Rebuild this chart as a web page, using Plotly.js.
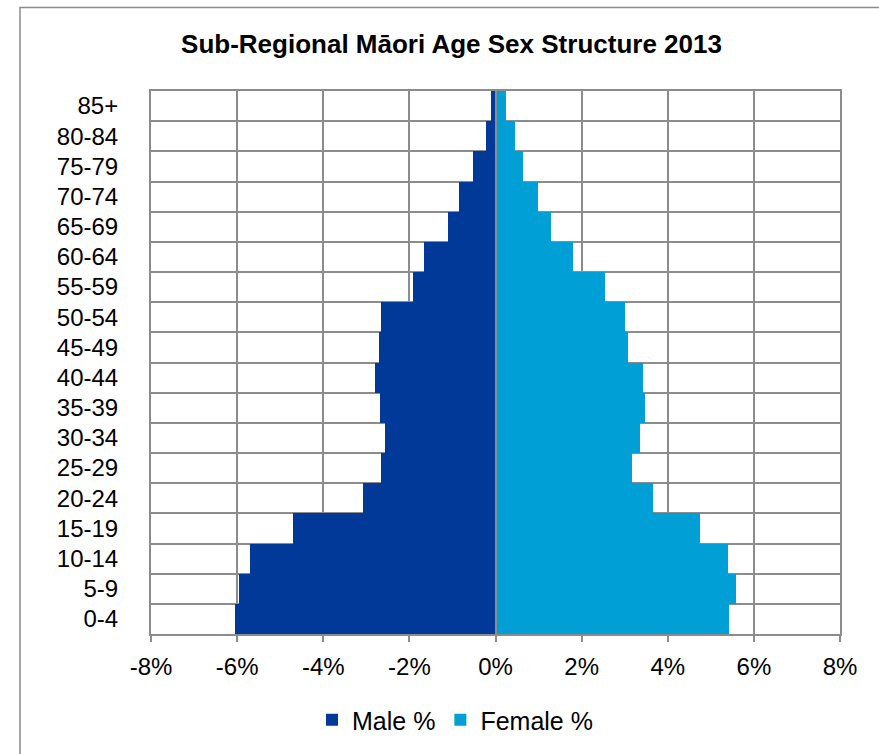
<!DOCTYPE html>
<html>
<head>
<meta charset="utf-8">
<script src="https://cdn.plot.ly/plotly-3.0.1.min.js"></script>
<style>
  html, body { margin: 0; padding: 0; background: #ffffff; }
  #chart { width: 879px; height: 754px; }
</style>
</head>
<body>
<div id="chart"></div>
<script>
// Age groups, bottom to top
var ageGroups = ["0-4","5-9","10-14","15-19","20-24","25-29","30-34","35-39","40-44",
                 "45-49","50-54","55-59","60-64","65-69","70-74","75-79","80-84","85+"];
// Male share (%), drawn to the left as negative values
var malePct = [-6.05, -5.95, -5.69, -4.71, -3.07, -2.66, -2.57, -2.68, -2.80,
               -2.71, -2.65, -1.92, -1.65, -1.11, -0.84, -0.52, -0.21, -0.10];
// Female share (%)
var femalePct = [5.42, 5.58, 5.41, 4.76, 3.66, 3.18, 3.36, 3.47, 3.42,
                 3.07, 3.01, 2.55, 1.80, 1.30, 0.98, 0.63, 0.45, 0.24];
var xTickVals = [-8, -6, -4, -2, 0, 2, 4, 6, 8];
var xTickText = ["-8%", "-6%", "-4%", "-2%", "0%", "2%", "4%", "6%", "8%"];

var W = 879, H = 754;
var m = { l: 151, r: 39, t: 91, b: 120, autoexpand: false };
var pw = W - m.l - m.r, ph = H - m.t - m.b;
function px2x(px) { return (px - m.l) / pw; }
function px2y(py) { return (H - m.b - py) / ph; }

var font = "Liberation Sans, Arial, sans-serif";
var gridC = "#8c8c8c";

var traces = [
  { type: "bar", orientation: "h", name: "Male %", y: ageGroups, x: malePct,
    marker: { color: "#003998", line: { width: 0 } }, hoverinfo: "y+x" },
  { type: "bar", orientation: "h", name: "Female %", y: ageGroups, x: femalePct,
    marker: { color: "#00a0d7", line: { width: 0 } }, hoverinfo: "y+x" }
];

var layout = {
  width: W, height: H,
  margin: m,
  paper_bgcolor: "#ffffff", plot_bgcolor: "#ffffff",
  font: { family: font, size: 24, color: "#000000" },
  title: { text: "<b>Sub-Regional Māori Age Sex Structure 2013</b>",
           font: { family: font, size: 26, color: "#000000" },
           xref: "container", x: 451.5 / W, xanchor: "center",
           yref: "container", y: 1 - 44 / H, yanchor: "middle" },
  barmode: "relative", bargap: 0,
  showlegend: true,
  legend: { orientation: "h", xref: "paper", x: px2x(455), xanchor: "center",
            yref: "paper", y: px2y(720), yanchor: "middle",
            font: { family: font, size: 25, color: "#000000" }, traceorder: "normal" },
  xaxis: {
    range: [-8, 8], tickvals: xTickVals, ticktext: xTickText, tickangle: 0,
    automargin: false,
    showgrid: true, gridcolor: gridC, gridwidth: 2,
    zeroline: true, zerolinecolor: gridC, zerolinewidth: 2, zerolinelayer: "above traces",
    showline: true, linecolor: gridC, linewidth: 2, mirror: true,
    ticks: "outside", ticklen: 6, tickcolor: gridC, tickwidth: 2,
    ticklabelstandoff: 4,
    tickfont: { family: font, size: 24, color: "#000000" },
    fixedrange: true
  },
  yaxis: {
    type: "category", categoryorder: "array", categoryarray: ageGroups,
    automargin: false,
    tickson: "boundaries", showgrid: true, gridcolor: gridC, gridwidth: 2,
    showline: true, linecolor: gridC, linewidth: 2, mirror: true,
    ticks: "", ticklabelstandoff: 26,
    tickfont: { family: font, size: 24, color: "#000000" },
    fixedrange: true
  },
  shapes: [
    { type: "rect", xref: "paper", yref: "paper", layer: "below",
      x0: px2x(20), x1: px2x(W + 20), y0: px2y(H + 20), y1: px2y(7.5),
      line: { color: "#8c8c8c", width: 1.5 }, fillcolor: "rgba(0,0,0,0)" }
  ]
};

Plotly.newPlot("chart", traces, layout, { displayModeBar: false, staticPlot: true });
</script>
</body>
</html>
